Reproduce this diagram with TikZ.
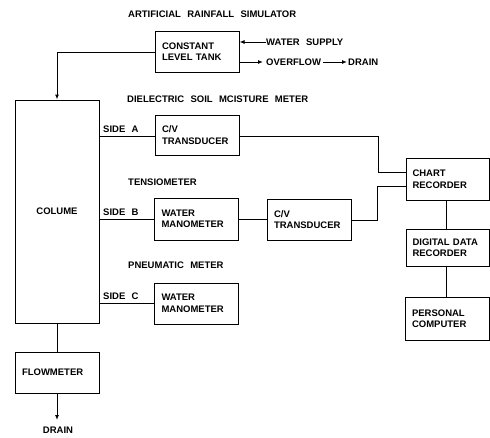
\documentclass[tikz,border=0pt]{standalone}
\usepackage{fontspec}
\setmainfont[WordSpace={2.4,1,1}]{Liberation Sans}
\usetikzlibrary{arrows.meta}
\tikzset{
  txt/.style={font=\fontsize{9.5}{11.5}\selectfont\bfseries},
  box/.style={txt, draw, line width=1pt, minimum width=84pt, minimum height=41pt,
    text width=70pt, align=left, inner sep=0pt},
  lbl/.style={txt, inner sep=0pt, anchor=west},
  ln/.style={line width=1pt},
  arr/.style={line width=1pt, -{Latex[length=5pt,width=4pt]}}
}
\begin{document}
\begin{tikzpicture}[x=1pt,y=-1pt]
\useasboundingbox (0,0) rectangle (490,437);
% boxes
\node[box] (tank) at (197,51.5) {CONSTANT\\LEVEL TANK};
\node[box, minimum height=223pt, text width=60pt, align=center] (col) at (57,211.5) {COLUME};
\node[box, minimum height=40pt] (cvA) at (197,135) {C/V\\TRANSDUCER};
\node[box, minimum height=42pt] (manB) at (196.5,219) {WATER\\MANOMETER};
\node[box] (cvB) at (309,219.5) {C/V\\TRANSDUCER};
\node[box] (manC) at (196.5,303.5) {WATER\\MANOMETER};
\node[box, minimum width=83pt, minimum height=42pt] (chart) at (447.5,179) {CHART\\RECORDER};
\node[box, minimum width=83pt, minimum height=37pt] (ddr) at (447.5,247.5) {DIGITAL DATA\\RECORDER};
\node[box, minimum height=43pt] (pc) at (447,318.5) {PERSONAL\\COMPUTER};
\node[box] (flow) at (57,372.5) {FLOWMETER};
% labels
\node[lbl] (arsim) at (128,14) {ARTIFICIAL RAINFALL SIMULATOR};
\node[lbl] (dsm) at (127,99) {DIELECTRIC SOIL MCISTURE METER};
\node[lbl] (tens) at (128,182) {TENSIOMETER};
\node[lbl] (pneu) at (128,265) {PNEUMATIC METER};
\node[lbl] (ws) at (266,42) {WATER SUPPLY};
\node[lbl] (ovf) at (266,62) {OVERFLOW};
\node[lbl] (dr1) at (348,62) {DRAIN};
\node[lbl] (sa) at (103,129) {SIDE A};
\node[lbl] (sb) at (103,212) {SIDE B};
\node[lbl] (sc) at (103,296) {SIDE C};
\node[txt, inner sep=0pt] (dr2) at (58,430) {DRAIN};
% coordinates
\coordinate (tkL) at (155,52);
\coordinate (ovE) at (263,62);
\coordinate (aTop) at (378,136);
\coordinate (aBot) at (378,172);
\coordinate (bBot) at (377,220);
\coordinate (bTop) at (377,186);
\coordinate (drTip) at (57,420);
% connectors
\draw[arr] (ws.west) -- (ws.west -| tank.east);
\draw[arr] (ovE -| tank.east) -- (ovE);
\draw[arr] ([xshift=2pt]ovf.east) -- ([xshift=-1pt]dr1.west);
\draw[arr] (tkL) -| (col.north);
\draw[ln] (col.east |- aTop) -- (cvA.west |- aTop);
\draw[ln] (col.east |- manB) -- (manB.west);
\draw[ln] (col.east |- manC) -- (manC.west);
\draw[ln] (cvA.east |- aTop) -- (aTop) -- (aBot) -- (chart.west |- aBot);
\draw[ln] (manB.east) -- (cvB.west |- manB.east);
\draw[ln] (cvB.east |- bBot) -- (bBot) -- (bTop) -- (chart.west |- bTop);
\draw[ln] (chart.south -| 446,0) -- (ddr.north -| 446,0);
\draw[ln] (ddr.south -| 446,0) -- (pc.north -| 446,0);
\draw[ln] (col.south -| 57,0) -- (flow.north -| 57,0);
\draw[arr] (flow.south -| drTip) -- (drTip);
\end{tikzpicture}
\end{document}
